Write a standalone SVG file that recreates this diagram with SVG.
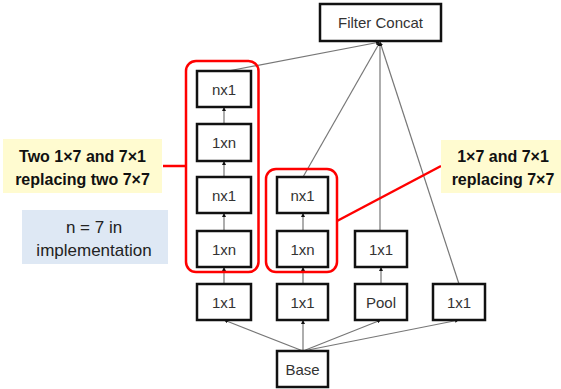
<svg xmlns="http://www.w3.org/2000/svg" width="561" height="389" viewBox="0 0 561 389">
<style>
.box{fill:#fff;stroke:#111;stroke-width:2.5}
.bt{font-family:"Liberation Sans",Arial,sans-serif;font-size:15px;fill:#333;text-anchor:middle}
.red{fill:none;stroke:#f00;stroke-width:2.5}
.con{stroke:#777;stroke-width:1.2;fill:none;marker-end:url(#ah)}
.lbl{font-family:"Liberation Sans",Arial,sans-serif;font-size:16px;font-weight:bold;fill:#111;text-anchor:middle}
.note{font-family:"Liberation Sans",Arial,sans-serif;font-size:17px;fill:#222;text-anchor:middle}
</style>
<defs>
<marker id="ah" viewBox="0 0 6 6" refX="6" refY="3" markerWidth="4" markerHeight="4" orient="auto" markerUnits="userSpaceOnUse">
<path d="M0,0 L6,3 L0,6 Z" fill="#111"/>
</marker>
</defs>
<rect width="561" height="389" fill="#fff"/>
<g id="connectors">
<line class="con" x1="228" y1="71" x2="380" y2="42"/>
<line class="con" x1="303" y1="177" x2="380" y2="42"/>
<line class="con" x1="380" y1="231" x2="380" y2="42"/>
<line class="con" x1="459" y1="284" x2="380" y2="42"/>
<line class="con" x1="224" y1="124" x2="224" y2="107"/>
<line class="con" x1="224" y1="177" x2="224" y2="161"/>
<line class="con" x1="224" y1="231" x2="224" y2="213"/>
<line class="con" x1="224" y1="284" x2="224" y2="267"/>
<line class="con" x1="303" y1="231" x2="303" y2="213"/>
<line class="con" x1="303" y1="284" x2="303" y2="267"/>
<line class="con" x1="381" y1="284" x2="381" y2="267"/>
<line class="con" x1="303" y1="351" x2="224" y2="320"/>
<line class="con" x1="303" y1="351" x2="303" y2="320"/>
<line class="con" x1="303" y1="351" x2="381" y2="320"/>
<line class="con" x1="303" y1="351" x2="459" y2="320"/>
</g>
<g id="filter-concat"><rect class="box" x="320" y="4" width="121" height="37"/><text class="bt" x="380.5" y="28">Filter Concat</text></g>
<g id="l-nx1-top"><rect class="box" x="197" y="71" width="54" height="36"/><text class="bt" x="224" y="94.5">nx1</text></g>
<g id="l-1xn-top"><rect class="box" x="197" y="124" width="54" height="37"/><text class="bt" x="224" y="148">1xn</text></g>
<g id="l-nx1-bot"><rect class="box" x="197" y="177" width="54" height="36"/><text class="bt" x="224" y="200.5">nx1</text></g>
<g id="l-1xn-bot"><rect class="box" x="197" y="231" width="54" height="36"/><text class="bt" x="224" y="254.5">1xn</text></g>
<g id="l-1x1"><rect class="box" x="197" y="284" width="54" height="36"/><text class="bt" x="224" y="307.5">1x1</text></g>
<g id="m-nx1"><rect class="box" x="277" y="177" width="51" height="36"/><text class="bt" x="302.5" y="200.5">nx1</text></g>
<g id="m-1xn"><rect class="box" x="277" y="231" width="51" height="36"/><text class="bt" x="302.5" y="254.5">1xn</text></g>
<g id="m-1x1"><rect class="box" x="277" y="284" width="51" height="36"/><text class="bt" x="302.5" y="307.5">1x1</text></g>
<g id="p-1x1"><rect class="box" x="355" y="231" width="52" height="36"/><text class="bt" x="381" y="254.5">1x1</text></g>
<g id="pool"><rect class="box" x="355" y="284" width="52" height="36"/><text class="bt" x="381" y="307.5">Pool</text></g>
<g id="r-1x1"><rect class="box" x="433" y="284" width="52" height="36"/><text class="bt" x="459" y="307.5">1x1</text></g>
<g id="base"><rect class="box" x="277" y="351" width="51" height="36"/><text class="bt" x="302.5" y="374.5">Base</text></g>
<g id="highlight-left"><rect class="red" x="186" y="61" width="72.5" height="211" rx="10"/></g>
<g id="highlight-mid"><rect class="red" x="266" y="169" width="71" height="103" rx="10"/></g>
<g id="callout-lines">
<line x1="163" y1="166" x2="186" y2="166" stroke="#f00" stroke-width="2.5"/>
<line x1="337" y1="221" x2="441" y2="166" stroke="#f00" stroke-width="2.5"/>
</g>
<g id="label-left"><rect x="3" y="139" width="159" height="54" fill="#FFFBD0"/><text class="lbl" x="82.5" y="162">Two 1×7 and 7×1</text><text class="lbl" x="82.5" y="185">replacing two 7×7</text></g>
<g id="label-right"><rect x="441" y="140" width="120" height="53" fill="#FFFBD0"/><text class="lbl" x="503" y="162">1×7 and 7×1</text><text class="lbl" x="503" y="185">replacing 7×7</text></g>
<g id="note"><rect x="22" y="210" width="146" height="54" fill="#DEE8F4"/><text class="note" x="94" y="233">n = 7 in</text><text class="note" x="94" y="256">implementation</text></g>
</svg>
